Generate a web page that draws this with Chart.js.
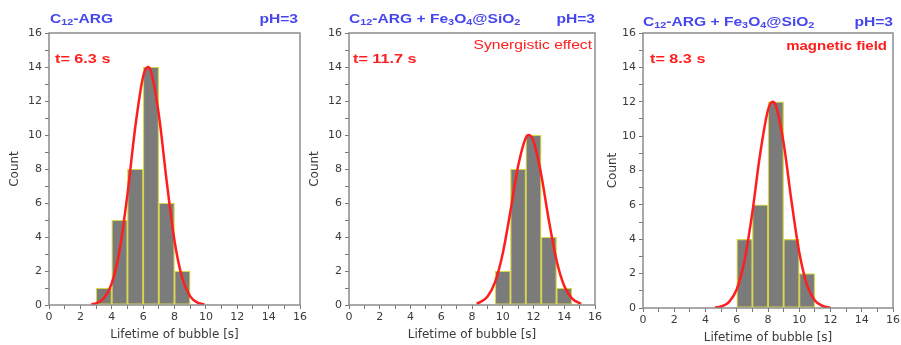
<!DOCTYPE html>
<html>
<head>
<meta charset="utf-8">
<script src="https://cdn.jsdelivr.net/npm/chart.js@4/dist/chart.umd.min.js"></script>
<style>
  body { margin: 0; background: #fff; }
  #wrap { position: relative; width: 901px; height: 345px; overflow: hidden; }
  canvas { position: absolute; top: 0; }
</style>
</head>
<body>
<div id="wrap">
  <canvas id="c1" style="left:0px" width="312" height="345"></canvas>
  <canvas id="c2" style="left:300px" width="307" height="345"></canvas>
  <canvas id="c3" style="left:598px" width="312" height="345"></canvas>
</div>
<script>
// histogram bins (centres, seconds) and counts
const bins1 = [3.5, 4.5, 5.5, 6.5, 7.5, 8.5];
const counts1 = [1, 5, 8, 14, 6, 2];
const bins2 = [10, 11, 12, 13, 14];
const counts2 = [2, 8, 10, 4, 1];
const bins3 = [6.5, 7.5, 8.5, 9.5, 10.5];
const counts3 = [4, 6, 12, 4, 2];

// gaussian fit curves
const fitX1 = [2.7, 3.0, 3.5, 4.0, 4.5, 5.0, 5.5, 6.0, 6.3, 6.5, 7.0, 7.5, 8.0, 8.5, 9.0, 9.5, 9.9];
const fitY1 = [0.04, 0.1, 0.4, 1.27, 3.22, 6.51, 10.47, 13.44, 14, 13.75, 11.21, 7.29, 3.78, 1.56, 0.51, 0.13, 0.04];
const fitX2 = [8.3, 8.5, 9.0, 9.5, 10.0, 10.5, 11.0, 11.5, 11.7, 12.0, 12.5, 13.0, 13.5, 14.0, 14.5, 15.0, 15.1];
const fitY2 = [0.08, 0.15, 0.49, 1.35, 3.03, 5.51, 8.17, 9.84, 10, 9.63, 7.68, 4.97, 2.62, 1.12, 0.39, 0.11, 0.08];
const fitX3 = [4.6, 5.0, 5.5, 6.0, 6.5, 7.0, 7.5, 8.0, 8.3, 8.5, 9.0, 9.5, 10.0, 10.5, 11.0, 11.5, 12.0];
const fitY3 = [0.02, 0.09, 0.34, 1.09, 2.76, 5.58, 8.98, 11.52, 12, 11.78, 9.61, 6.24, 3.24, 1.33, 0.44, 0.12, 0.02];

const xTicks = [0, 2, 4, 6, 8, 10, 12, 14, 16];
const yTicks = [0, 2, 4, 6, 8, 10, 12, 14, 16];

const titleShort = [['C'], ['12', true], ['-ARG']];
const titleLong = [['C'], ['12', true], ['-ARG + Fe'], ['3', true], ['O'], ['4', true], ['@SiO'], ['2', true]];

const FONT = '"Liberation Sans", Arial, sans-serif';
const AXFONT = '"DejaVu Sans", sans-serif';
const BLUE = '#4646ee';
const RED = '#ff1e1e';
const STRETCH = 1.2; // the source figure is stretched sideways

function drawRich(ctx, x, y, parts, size) {
    ctx.save();
    ctx.translate(x, y);
    ctx.scale(STRETCH, 1);
    let cx = 0;
    parts.forEach(p => {
        const sub = p[1];
        ctx.font = 'bold ' + (sub ? Math.round(size * 0.7) : size) + 'px ' + FONT;
        ctx.fillText(p[0], cx, sub ? size * 0.3 : 0);
        cx += ctx.measureText(p[0]).width;
    });
    ctx.restore();
}

function drawWide(ctx, text, x, y, font, align) {
    ctx.save();
    ctx.translate(x, y);
    ctx.scale(STRETCH, 1);
    ctx.font = font;
    ctx.textAlign = align;
    ctx.fillText(text, 0, 0);
    ctx.restore();
}

// frame + texts around the plot area
const annotate = {
    id: 'annotate',
    afterDatasetsDraw(chart, args, opts) {
        const ctx = chart.ctx;
        const a = chart.chartArea;
        ctx.save();
        ctx.strokeStyle = '#8c8c8c';
        ctx.lineWidth = 1.5;
        ctx.strokeRect(a.left, a.top, a.right - a.left, a.bottom - a.top);

        ctx.textBaseline = 'middle';
        ctx.fillStyle = BLUE;
        ctx.textAlign = 'left';
        drawRich(ctx, opts.titleX, opts.titleY, opts.title, 13);
        drawWide(ctx, 'pH=3', opts.phX, opts.titleY, 'bold 13px ' + FONT, 'right');

        ctx.fillStyle = RED;
        drawWide(ctx, opts.tText, opts.tX, 59, 'bold 13.5px ' + FONT, 'left');
        if (opts.note) {
            drawWide(ctx, opts.note, opts.noteX, opts.noteY, opts.noteFont + ' ' + FONT, 'right');
        }
        ctx.restore();
    }
};

function makePanel(id, bins, counts, fitX, fitY, plotLeft, plotTop, plotBottom, rightPad, xTitlePad, text) {
    const ctx = document.getElementById(id).getContext('2d');
    new Chart(ctx, {
        type: 'bar',
        data: {
            datasets: [{
                type: 'line',
                data: fitX.map((x, i) => ({ x: x, y: fitY[i] })),
                borderColor: RED,
                borderWidth: 2.5,
                pointRadius: 0,
                cubicInterpolationMode: 'monotone',
                order: 0
            }, {
                data: bins.map((x, i) => ({ x: x, y: counts[i] })),
                backgroundColor: '#7b7b7b',
                borderColor: '#d6d64c',
                borderWidth: 1.3,
                borderSkipped: false,
                barPercentage: 1,
                categoryPercentage: 1,
                order: 1
            }]
        },
        options: {
            responsive: false,
            animation: false,
            layout: { padding: { top: plotTop, right: rightPad, left: 0, bottom: 0 } },
            plugins: {
                legend: { display: false },
                tooltip: { enabled: false },
                annotate: text
            },
            scales: {
                x: {
                    type: 'linear',
                    offset: false,
                    min: 0,
                    max: 16,
                    afterFit: s => { s.height = 345 - plotBottom; },
                    afterBuildTicks: s => {
                        s.ticks = [];
                        for (let v = 0; v <= 16; v++) s.ticks.push({ value: v });
                    },
                    ticks: {
                        autoSkip: false,
                        maxRotation: 0,
                        padding: 2,
                        color: '#3a3a3a',
                        font: { family: AXFONT, size: 11 },
                        callback: v => xTicks.includes(v) ? String(v) : ''
                    },
                    grid: { offset: false, drawOnChartArea: false, drawTicks: true, tickLength: 4, color: '#777' },
                    border: { display: false },
                    title: {
                        display: true,
                        text: 'Lifetime of bubble [s]',
                        color: '#3a3a3a',
                        font: { family: AXFONT, size: 12 },
                        padding: { top: 0, bottom: xTitlePad }
                    }
                },
                y: {
                    min: 0,
                    max: 16,
                    afterFit: s => { s.width = plotLeft; },
                    afterBuildTicks: s => {
                        s.ticks = [];
                        for (let v = 0; v <= 16; v++) s.ticks.push({ value: v });
                    },
                    ticks: {
                        autoSkip: false,
                        padding: 3,
                        color: '#3a3a3a',
                        font: { family: AXFONT, size: 11 },
                        callback: v => yTicks.includes(v) ? String(v) : ''
                    },
                    grid: { drawOnChartArea: false, drawTicks: true, tickLength: 4, color: '#777' },
                    border: { display: false },
                    title: {
                        display: true,
                        text: 'Count',
                        color: '#3a3a3a',
                        font: { family: AXFONT, size: 12 },
                        padding: { top: 8, bottom: 0 }
                    }
                }
            }
        },
        plugins: [annotate]
    });
}

makePanel('c1', bins1, counts1, fitX1, fitY1, 49, 33, 305, 12, 3, {
    title: titleShort, titleX: 50, titleY: 19, phX: 298,
    tText: 't= 6.3 s', tX: 55
});
makePanel('c2', bins2, counts2, fitX2, fitY2, 49, 33, 305, 12, 3, {
    title: titleLong, titleX: 49, titleY: 19, phX: 295,
    tText: 't= 11.7 s', tX: 53,
    note: 'Synergistic effect', noteX: 292, noteY: 45, noteFont: 'normal 13px'
});
makePanel('c3', bins3, counts3, fitX3, fitY3, 45, 33, 308, 17, 0, {
    title: titleLong, titleX: 45, titleY: 22, phX: 295,
    tText: 't= 8.3 s', tX: 52,
    note: 'magnetic field', noteX: 289, noteY: 47, noteFont: 'bold 12.5px'
});
</script>
</body>
</html>
